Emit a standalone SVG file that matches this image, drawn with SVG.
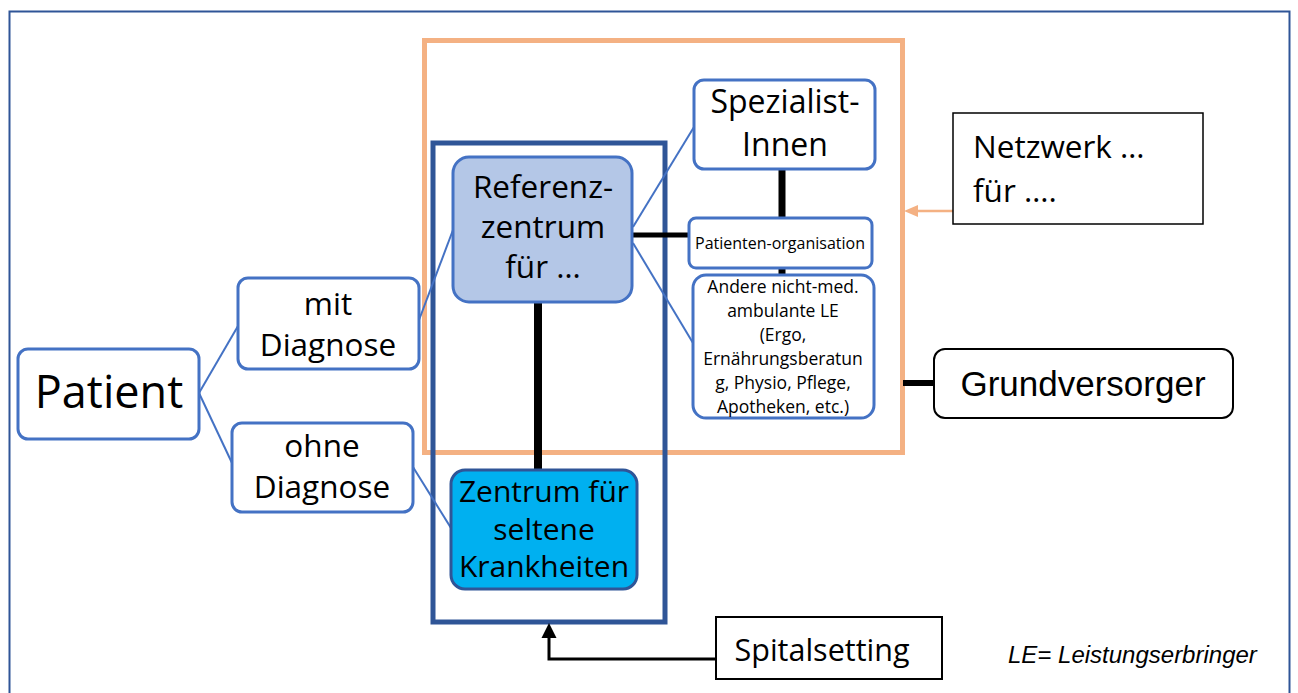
<svg xmlns="http://www.w3.org/2000/svg" width="1298" height="693" viewBox="0 0 1298 693">
<defs>
<style>
.t{font-family:"Open Sans",Lato,sans-serif;fill:#000;text-anchor:middle}
.s{text-anchor:start}
.box{fill:#fff;stroke:#4472C4;stroke-width:3}
.blue{stroke:#4472C4;stroke-width:2;fill:none}
.thick{stroke:#000;fill:none}
.ar{font-family:"Liberation Sans",Arial,sans-serif;fill:#000}
</style>
</defs>
<rect width="1298" height="693" fill="#fff"/>
<rect id="frame" x="9.5" y="11.5" width="1280" height="700" fill="none" stroke="#2F5597" stroke-width="2"/>
<g id="netzwerk-frame"><rect x="424.5" y="40.5" width="478" height="412" fill="none" stroke="#F4B183" stroke-width="5"/></g>
<g id="spital-frame"><rect x="433" y="143" width="232" height="479" fill="none" stroke="#2F5597" stroke-width="5"/></g>
<g id="connectors">
<line class="blue" x1="199" y1="393" x2="238" y2="326"/>
<line class="blue" x1="199" y1="393" x2="232" y2="463"/>
<line class="blue" x1="419" y1="320" x2="453" y2="230"/>
<line class="blue" x1="413" y1="467" x2="451" y2="528"/>
<line class="blue" x1="633" y1="227" x2="694" y2="127"/>
<line class="blue" x1="633" y1="243" x2="693" y2="343"/>
<line class="thick" stroke-width="5" x1="632" y1="235" x2="689" y2="235"/>
<line class="thick" stroke-width="7" x1="782" y1="169" x2="782" y2="218"/>
<line class="thick" stroke-width="7" x1="782" y1="268" x2="782" y2="275"/>
<line class="thick" stroke-width="8" x1="538" y1="302" x2="538" y2="470"/>
<line class="thick" stroke-width="6" x1="903" y1="383" x2="934" y2="383"/>
<polyline class="thick" stroke-width="3" points="716,659 549,659 549,638"/>
<path d="M549,623 L541.5,638 L556.5,638 z" fill="#000"/>
<line stroke="#F4B183" stroke-width="2.5" x1="953" y1="211" x2="918" y2="211"/>
<path d="M904,211 L918,205 L918,217 z" fill="#F4B183"/>
</g>
<g id="patient"><rect class="box" x="18" y="349" width="181" height="90" rx="10"/><text class="t" x="109" y="408" font-size="45">Patient</text></g>
<g id="mit-diagnose"><rect class="box" x="238" y="278" width="181" height="91" rx="10"/><text class="t" x="328" y="315" font-size="31.5">mit</text><text class="t" x="328" y="356" font-size="31.5">Diagnose</text></g>
<g id="ohne-diagnose"><rect class="box" x="232" y="423" width="181" height="89" rx="10"/><text class="t" x="322" y="457" font-size="31.5">ohne</text><text class="t" x="322" y="498" font-size="31.5">Diagnose</text></g>
<g id="referenzzentrum"><rect x="453" y="157" width="179" height="145" rx="16" fill="#B4C7E7" stroke="#4472C4" stroke-width="3"/><text class="t" x="543" y="198" font-size="31.5">Referenz-</text><text class="t" x="543" y="238" font-size="31.5">zentrum</text><text class="t" x="543" y="278" font-size="31.5">für …</text></g>
<g id="zentrum-seltene"><rect x="451" y="470" width="186" height="119" rx="14" fill="#00B0F0" stroke="#2F5597" stroke-width="3"/><text class="t" x="544" y="502" font-size="30">Zentrum für</text><text class="t" x="544" y="540" font-size="30">seltene</text><text class="t" x="544" y="577" font-size="30">Krankheiten</text></g>
<g id="spezialist"><rect class="box" x="694" y="80" width="181" height="89" rx="10"/><text class="t" x="785" y="113" font-size="32">Spezialist-</text><text class="t" x="785" y="156" font-size="32">Innen</text></g>
<g id="patientenorg"><rect class="box" x="689" y="218" width="183" height="50" rx="7"/><text class="t" x="780" y="249" font-size="16">Patienten-organisation</text></g>
<g id="andere"><rect class="box" x="693" y="275" width="181" height="143" rx="13"/>
<text class="t" x="783" y="293" font-size="17.5">Andere nicht-med.</text>
<text class="t" x="783" y="317" font-size="17.5">ambulante LE</text>
<text class="t" x="783" y="341" font-size="17.5">(Ergo,</text>
<text class="t" x="783" y="365" font-size="17.5">Ernährungsberatun</text>
<text class="t" x="783" y="389" font-size="17.5">g, Physio, Pflege,</text>
<text class="t" x="783" y="413" font-size="17.5">Apotheken, etc.)</text></g>
<g id="netzwerk"><rect x="953" y="113" width="250" height="111" fill="#fff" stroke="#000" stroke-width="1.5"/><text class="t s" x="973" y="158" font-size="31.5">Netzwerk …</text><text class="t s" x="973" y="202" font-size="31.5">für ….</text></g>
<g id="grundversorger"><rect x="934" y="349" width="299" height="69" rx="11" fill="#fff" stroke="#000" stroke-width="2"/><text class="ar" x="1083" y="396" font-size="35" text-anchor="middle">Grundversorger</text></g>
<g id="spitalsetting"><rect x="716" y="617" width="226" height="62" fill="#fff" stroke="#000" stroke-width="2"/><text class="t" x="822" y="661" font-size="30.5">Spitalsetting</text></g>
<text class="ar" x="1008" y="663" font-size="24" font-style="italic">LE= Leistungserbringer</text>
</svg>
